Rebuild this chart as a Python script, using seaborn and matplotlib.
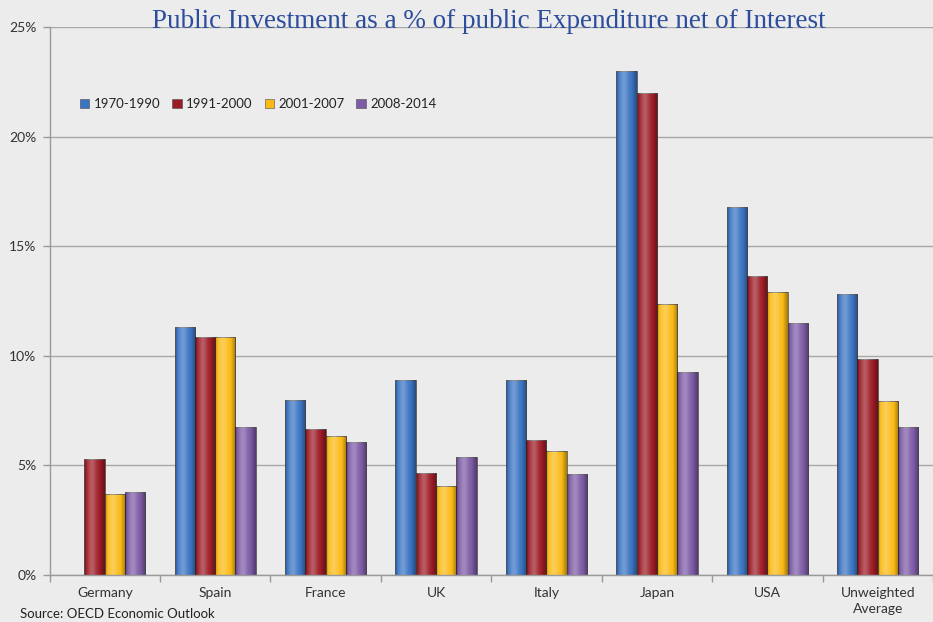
import numpy as np
import pandas as pd
import matplotlib
matplotlib.use("Agg")
import matplotlib.pyplot as plt
import seaborn as sns
from matplotlib.patches import Patch
from matplotlib.ticker import FuncFormatter, MultipleLocator, FixedLocator

# Public investment as a share of public expenditure net of interest (%)
countries = ["Germany", "Spain", "France", "UK", "Italy", "Japan", "USA",
             "Unweighted\nAverage"]
periods = ["1970-1990", "1991-2000", "2001-2007", "2008-2014"]
share_1970_1990 = [np.nan, 11.3, 8.0, 8.9, 8.9, 23.0, 16.8, 12.8]
share_1991_2000 = [5.3, 10.85, 6.65, 4.65, 6.15, 22.0, 13.65, 9.85]
share_2001_2007 = [3.7, 10.85, 6.35, 4.05, 5.65, 12.35, 12.9, 7.95]
share_2008_2014 = [3.8, 6.75, 6.05, 5.4, 4.6, 9.25, 11.5, 6.75]
period_colors = ["#3B74C2", "#9C1C26", "#FBBA16", "#7D5BA5"]

series = [share_1970_1990, share_1991_2000, share_2001_2007, share_2008_2014]
rows = []
for period, values in zip(periods, series):
    for country, v in zip(countries, values):
        rows.append({"country": country, "period": period, "share": v})
df = pd.DataFrame(rows).dropna()

sns.set_theme(style="white")
plt.rcParams["font.family"] = ["Lato", "DejaVu Sans"]

bg = "#ECECEC"
fig = plt.figure(figsize=(9.33, 6.22), dpi=100, facecolor=bg)
ax = fig.add_axes([0.0531, 0.0756, 0.9469, 0.881])
ax.set_facecolor("none")

sns.barplot(data=df, x="country", y="share", hue="period",
            order=countries, hue_order=periods, palette=period_colors,
            width=0.735, gap=0, saturation=1, errorbar=None,
            edgecolor="#4A4A4A", linewidth=0.5, legend=False, ax=ax)

# cylinder-like shading on each bar
bars = [p for p in ax.patches]
xs = np.linspace(0, 1, 64)
prof = np.exp(-((xs - 0.38) / 0.22) ** 2) * 0.28
dark = (np.clip(np.abs(xs - 0.45) - 0.3, 0, None) / 0.25) * 0.35
rgba = np.zeros((1, 64, 4))
rgba[0, :, :3] = np.where(prof[:, None] > dark[:, None], 1.0, 0.0)
rgba[0, :, 3] = np.maximum(prof, dark)
for p in bars:
    x0, y0 = p.get_x(), p.get_y()
    w, h = p.get_width(), p.get_height()
    if not np.isfinite(h) or h <= 0:
        continue
    im = ax.imshow(rgba, extent=[x0, x0 + w, y0, y0 + h], aspect="auto",
                   interpolation="bilinear", zorder=p.get_zorder() + 0.1)
    im.set_clip_path(p)

ax.set_xlim(-0.5, len(countries) - 0.5)
ax.set_ylim(0, 25)
ax.set_aspect("auto")

ax.yaxis.set_major_locator(MultipleLocator(5))
ax.yaxis.set_major_formatter(FuncFormatter(lambda v, _: f"{v:.0f}%"))
ax.yaxis.grid(True, color="#A8A8A8", linewidth=1.0)
ax.set_axisbelow(True)

ax.xaxis.set_minor_locator(FixedLocator(np.arange(-0.5, len(countries), 1.0)))
ax.tick_params(axis="x", which="major", length=0, pad=9, labelsize=10,
               labelcolor="#333333")
ax.tick_params(axis="x", which="minor", length=5, width=1, color="#9A9A9A",
               direction="out", bottom=True)
ax.tick_params(axis="y", which="major", length=5, width=1, color="#9A9A9A",
               direction="out", left=True, pad=4.5, labelsize=10,
               labelcolor="#333333")
for lab in ax.get_xticklabels():
    lab.set_linespacing(1.35)

for side in ("top", "right"):
    ax.spines[side].set_visible(False)
for side in ("left", "bottom"):
    ax.spines[side].set_color("#9A9A9A")
    ax.spines[side].set_linewidth(1.0)
ax.set_xlabel("")
ax.set_ylabel("")

handles = [Patch(facecolor=c, edgecolor="#4A4A4A", linewidth=0.4)
           for c in period_colors]
ax.legend(handles, periods, loc="center left", bbox_to_anchor=(0.021, 0.859),
          ncol=4, frameon=False, fontsize=9.5, handlelength=0.7,
          handleheight=0.7, handletextpad=0.35, columnspacing=0.9,
          labelcolor="#222222")

fig.text(0.524, 0.965, "Public Investment as a % of public Expenditure net of Interest",
         ha="center", va="center", fontsize=19.5, color="#2C4C9C",
         family=["Liberation Serif", "DejaVu Serif"])
fig.text(20 / 933, 4 / 622, "Source: OECD Economic Outlook", ha="left",
         va="baseline", fontsize=9.5, color="#222222")

fig.savefig("out.png", dpi=100, facecolor=bg)
